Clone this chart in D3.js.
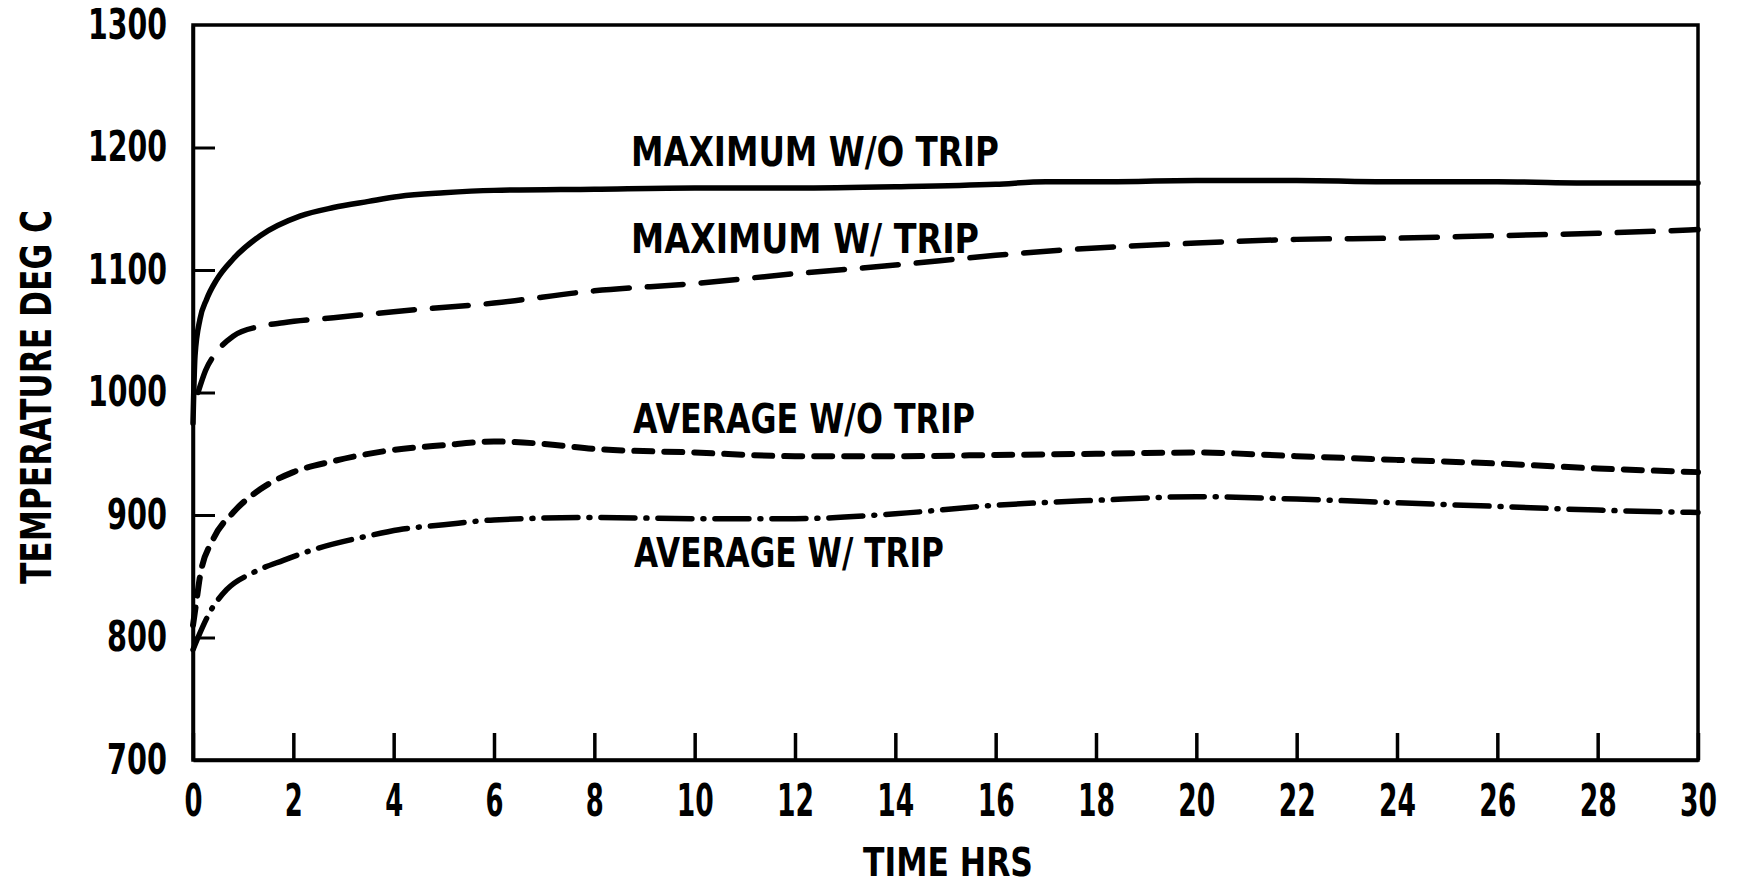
<!DOCTYPE html>
<html><head><meta charset="utf-8">
<script src="https://cdn.jsdelivr.net/npm/d3@7"></script>
<style>
body{margin:0;background:#fff}
text{font-family:"Liberation Sans Narrow","DejaVu Sans Condensed","Roboto Condensed",sans-serif;font-weight:bold;fill:#000}
text.lab{font-family:"DejaVu Sans","Liberation Sans",sans-serif}
</style>
</head><body>
<svg id="c" width="1737" height="886"></svg>
<script>
// ---- data ----
const xTicks = [0,2,4,6,8,10,12,14,16,18,20,22,24,26,28,30];
const yTicks = [700,800,900,1000,1100,1200,1300];

const maxNoTripT = [0,0.04,0.14,0.27,0.47,0.8,1.34,2.13,2.8,3.5,4.1,5,6,8,10,12,14,16,17,18,20,22,24,26,28,30];
const maxNoTripV = [975,1030,1060,1076,1092,1109,1128,1144,1151,1156,1160,1163,1165,1166,1167,1167,1168,1170,1172,1172,1173,1173,1172,1172,1171,1171];

const maxTripT = [0.1,0.25,0.47,0.8,1.34,1.8,2.8,4,6,8,10,12,14,16,18,20,22,24,26,28,30];
const maxTripV = [1000,1018,1033,1046,1054,1057,1061,1066,1073,1083,1089,1097,1104,1112,1118,1122,1125,1126,1128,1130,1133];

const avgNoTripT = [0,0.07,0.14,0.4,0.8,1.34,2,2.8,3.8,5,6,7,8,10,12,14,16,18,20,22,24,26,28,30];
const avgNoTripV = [810,830,850,880,902,921,935,944,952,957,960,958,954,951,948,948,949,950,951,948,945,942,938,935];

const avgTripT = [0,0.1,0.34,0.67,1.2,1.8,2.5,3.5,4.1,5,6,8,10,12,14,16,18,20,22,24,26,28,30];
const avgTripV = [790,800,821,839,853,863,873,883,888,892,896,898,897,897,901,908,912,915,913,910,907,904,902];

const seriesLabels = ["MAXIMUM W/O TRIP","MAXIMUM W/ TRIP","AVERAGE W/O TRIP","AVERAGE W/ TRIP"];
const xTitle = "TIME HRS";
const yTitle = "TEMPERATURE DEG C";

// ---- drawing ----
const svg = d3.select("#c");
const x = d3.scaleLinear().domain([0,30]).range([193,1698]);
const y = d3.scaleLinear().domain([700,1300]).range([760,25]);

// frame
svg.append("rect").attr("x",x(0)).attr("y",y(1300)).attr("width",x(30)-x(0)).attr("height",y(700)-y(1300))
  .attr("fill","none").attr("stroke","#000").attr("stroke-width",3.5);

const digitW = [0,18,37,60,79];

const gx = svg.append("g").attr("transform",`translate(0,${y(700)})`)
  .call(d3.axisBottom(x).tickValues(xTicks).tickSizeInner(-27).tickSizeOuter(0).tickPadding(25).tickFormat(d3.format("d")));
gx.select(".domain").attr("stroke-width",3.5);
gx.selectAll(".tick line").attr("stroke-width",3.5);
gx.selectAll(".tick text").attr("font-size",44).attr("font-family",null)
  .attr("textLength",d=>digitW[String(d).length]).attr("lengthAdjust","spacingAndGlyphs");

const gy = svg.append("g").attr("transform",`translate(${x(0)},0)`)
  .call(d3.axisLeft(y).tickValues(yTicks).tickSizeInner(-22).tickSizeOuter(0).tickPadding(26).tickFormat(d3.format("d")));
gy.select(".domain").attr("stroke-width",3.5);
gy.selectAll(".tick line").attr("stroke-width",3).filter(d=>d===700||d===1300).remove();
gy.selectAll(".tick text").attr("font-size",42).attr("font-family",null)
  .attr("textLength",d=>digitW[String(d).length]).attr("lengthAdjust","spacingAndGlyphs");
svg.selectAll(".tick text").attr("fill","#000");

const line = d3.line().x(d=>x(d[0])).y(d=>y(d[1])).curve(d3.curveMonotoneX);
const mk = (T,V)=>T.map((t,i)=>[t,V[i]]);

const series = [
  {d:mk(maxNoTripT,maxNoTripV), w:5.5, dash:null},
  {d:mk(maxTripT,maxTripV), w:5.5, dash:"36 18"},
  {d:mk(avgNoTripT,avgNoTripV), w:6, dash:"18 12"},
  {d:mk(avgTripT,avgTripV), w:5.5, dash:"34 11 1 11"}
];
series.forEach(s=>{
  svg.append("path").attr("d",line(s.d)).attr("fill","none").attr("stroke","#000")
    .attr("stroke-width",s.w).attr("stroke-linecap","round").attr("stroke-linejoin","round")
    .attr("stroke-dasharray",s.dash);
});

// series annotations
const annX = [631,631,633,634];
const annY = [166,253,433,567];
const annLen = [368,348,342,310];
seriesLabels.forEach((t,i)=>{
  svg.append("text").attr("class","lab").attr("x",annX[i]).attr("y",annY[i]).attr("font-size",40)
    .attr("textLength",annLen[i]).attr("lengthAdjust","spacingAndGlyphs").text(t);
});

// axis titles
svg.append("text").attr("class","lab").attr("x",948).attr("y",876).attr("text-anchor","middle").attr("font-size",39)
  .attr("textLength",170).attr("lengthAdjust","spacingAndGlyphs").text(xTitle);
svg.append("text").attr("class","lab").attr("transform","translate(51,397) rotate(-90)").attr("text-anchor","middle").attr("font-size",42)
  .attr("textLength",374).attr("lengthAdjust","spacingAndGlyphs").text(yTitle);
</script>
</body></html>
